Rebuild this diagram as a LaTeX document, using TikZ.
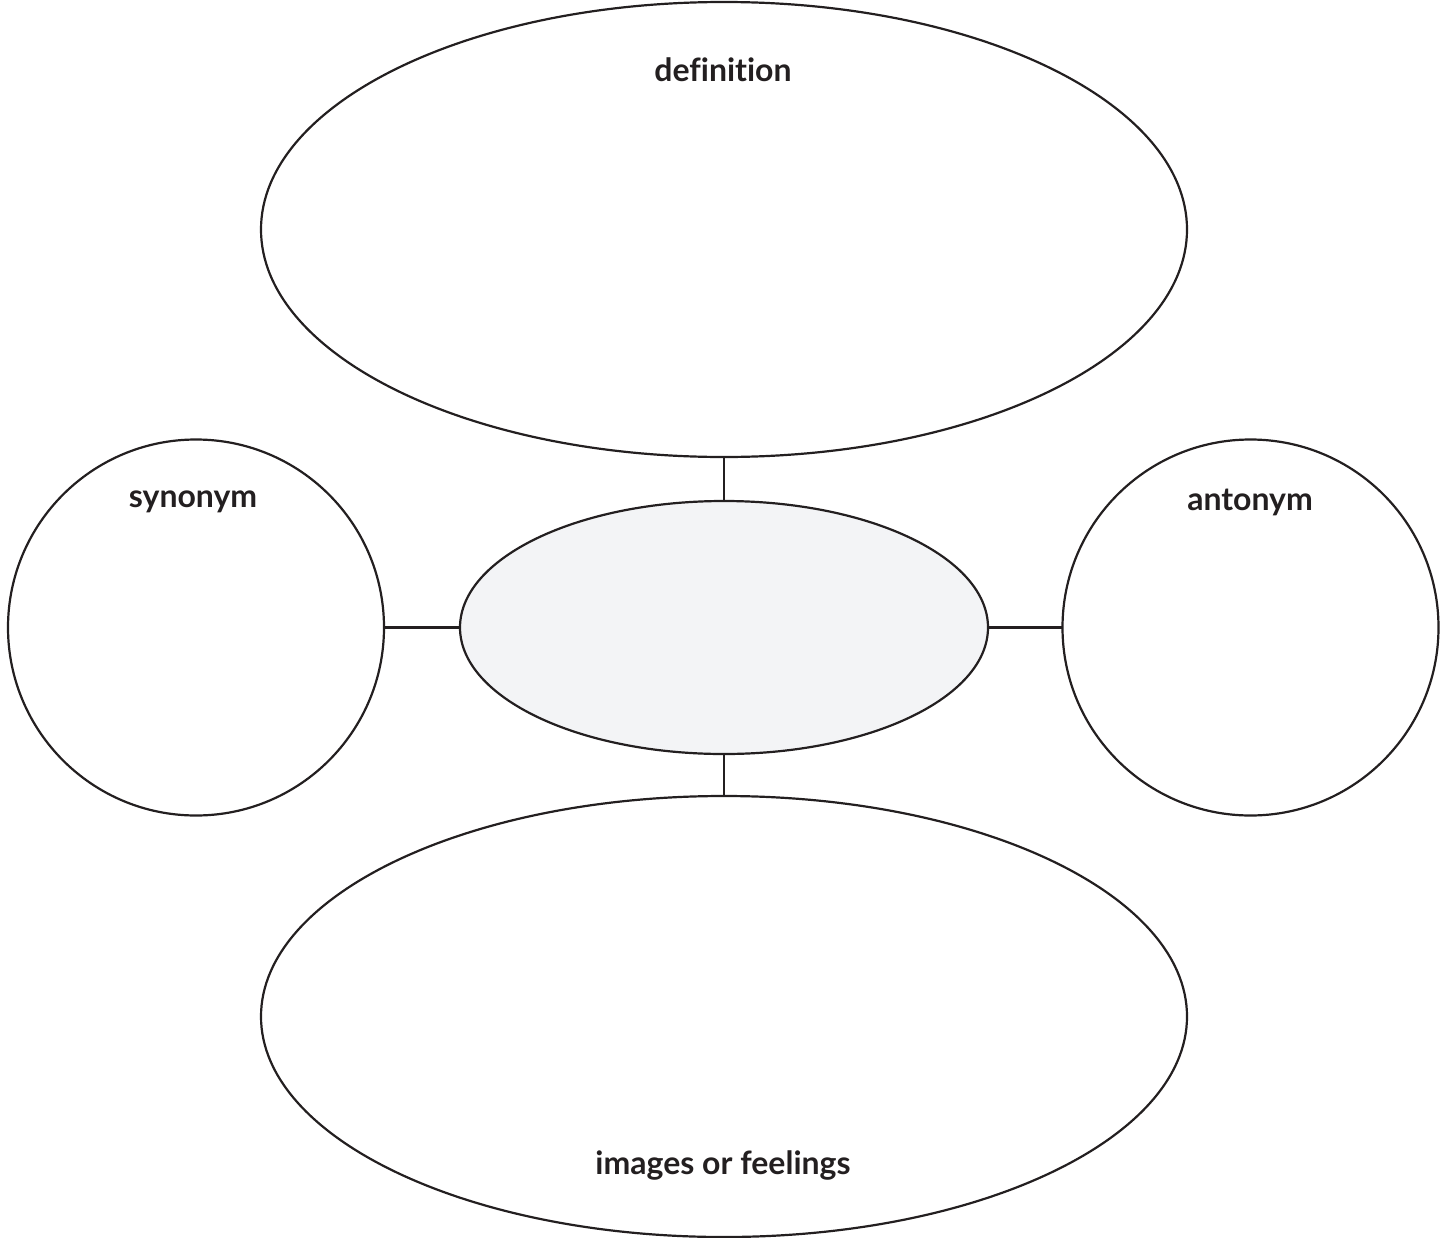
\documentclass[tikz,border=0pt]{standalone}
\usepackage{fontspec}
\setmainfont{Lato}[Ligatures=NoCommon]
\usetikzlibrary{shapes.geometric}
\definecolor{inkdark}{HTML}{231F20}
\definecolor{centrefill}{HTML}{F3F4F6}
\tikzset{
  bubble/.style={ellipse,draw=inkdark,line width=2.2bp,inner sep=0pt,outer sep=0pt},
  tag/.style={text=inkdark,font=\fontsize{32bp}{37bp}\selectfont\bfseries,inner sep=0pt},
  link/.style={draw=inkdark,line width=2.2bp},
}
\begin{document}
\begin{tikzpicture}[line join=bevel,]
\useasboundingbox (0bp,0bp) rectangle (1447bp,-1238bp);
%%
\node (node_word) at (724bp,-627.5bp) [bubble,fill=centrefill,minimum width=528bp,minimum height=253bp] {};
  \node (node_def) at (724bp,-229.5bp) [bubble,minimum width=926bp,minimum height=455bp] {};
  \node (node_img) at (724bp,-1016.5bp) [bubble,minimum width=926bp,minimum height=441bp] {};
  \node (node_syn) at (196bp,-627.5bp) [bubble,minimum width=376bp,minimum height=376bp] {};
  \node (node_ant) at (1250.5bp,-627.5bp) [bubble,minimum width=376bp,minimum height=376bp] {};
%
\node (lbl_def) at (723bp,-70bp) [tag] {definition};
  \node (lbl_syn) at (193bp,-502bp) [tag] {synonym};
  \node (lbl_ant) at (1250bp,-502bp) [tag] {antonym};
  \node (lbl_img) at (723bp,-1165bp) [tag] {images or feelings};
%
\draw [link] (node_def) -- (node_word);
  \draw [link] (node_word) -- (node_img);
  \draw [link] (node_syn) -- (node_word);
  \draw [link] (node_word) -- (node_ant);
%
\end{tikzpicture}
\end{document}
